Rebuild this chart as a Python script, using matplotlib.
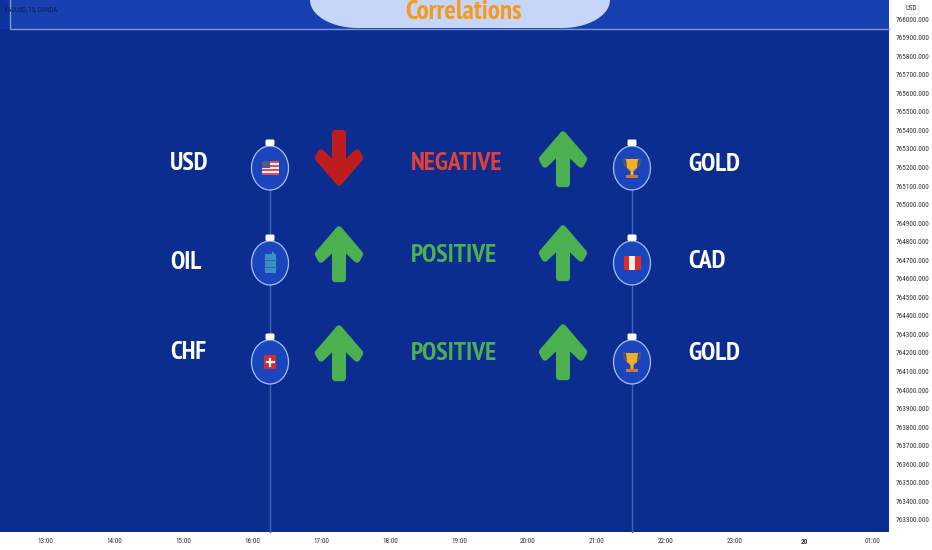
import numpy as np
import matplotlib
matplotlib.use('Agg')
import matplotlib.pyplot as plt
from matplotlib.patches import Ellipse, Rectangle, FancyBboxPatch, Polygon

# chart data
prices = [766000 - 100 * i for i in range(28)]
hours = ['13:00', '14:00', '15:00', '16:00', '17:00', '18:00', '19:00', '20:00', '21:00',
         '22:00', '23:00', '20', '01:00']
left_names = ['USD', 'OIL', 'CHF']
right_names = ['GOLD', 'CAD', 'GOLD']
middle_words = ['NEGATIVE', 'POSITIVE', 'POSITIVE']
left_dirs = [-1, 1, 1]
right_dirs = [1, 1, 1]
left_icons = ['us', 'oil', 'ch']
right_icons = ['cup', 'pe', 'cup']

narrow = ['PT Sans Narrow', 'Roboto', 'DejaVu Sans']
small = ['Roboto Condensed', 'PT Sans Narrow', 'Roboto', 'DejaVu Sans']
BG = '#0a2d8f'
GREEN = '#4caf50'
RED = '#bf1d1d'

fig = plt.figure(figsize=(9.32, 5.5), dpi=100, facecolor='white')

# price chart part with real axes
ax = fig.add_axes([0, 18 / 550, 889 / 932, 532 / 550])
ax.set_facecolor(BG)
ax.set_xlim(-0.652, 12.232)
ax.set_ylim(763235, 766103)
ax.yaxis.tick_right()
ax.set_yticks(prices)
ax.set_yticklabels(['%.3f' % p for p in prices], fontsize=5.2, color='#333333', family=small)
ax.set_xticks(range(len(hours)))
ax.set_xticklabels(hours, fontsize=5.2, color='#333333', family=small)
ax.get_xticklabels()[11].set_fontweight('bold')
ax.tick_params(axis='y', length=0, pad=5)
ax.tick_params(axis='x', length=0, pad=4)
for s in ax.spines.values():
    s.set_visible(False)

# overlay in pixels
ov = fig.add_axes([0, 0, 1, 1])
ov.set_xlim(0, 932)
ov.set_ylim(550, 0)
ov.axis('off')
ov.patch.set_alpha(0)

ov.add_patch(Rectangle((0, 0), 889, 29, fc='#1740b0', ec='none'))
ov.add_patch(Rectangle((0, 0), 10, 29, fc='#0f339c', ec='none'))

# title pill
t = np.linspace(0, np.pi / 2, 30)
lx = 358 - 48 * np.cos(t)
ly = 28 * np.sin(t)
rx = 562 + 48 * np.cos(t[::-1])
ry = 28 * np.sin(t[::-1])
ov.add_patch(Polygon(np.column_stack([np.r_[lx, rx], np.r_[ly, ry]]), closed=True,
                     fc='#c6d6f9', ec='none'))
ov.plot([10, 10, 889], [0, 29, 29], color='#7f97cf', lw=1.0)
ov.text(463, 12, 'Correlations', color='#f59a1b', fontsize=19.5, fontweight='bold',
        family=narrow, ha='center', va='center')

ov.text(4, 10, 'XAUUSD, 15, OANDA', color='#0b1f5c', fontsize=4.8, va='center', family=small)
ov.add_patch(Rectangle((904, 4.5), 14, 9, fc='white', ec='#dddddd', lw=0.5))
ov.text(911, 9, 'USD', color='#333333', fontsize=5, ha='center', va='center', family=small)


def arrow(x, tip, sign, color):
    # sign 1 points up, -1 points down
    shape = [(0, 3.5), (21, 28), (18, 33.5), (3.8, 20), (3.8, 53), (-3.8, 53), (-3.8, 20),
             (-18, 33.5), (-21, 28)]
    pts = [(x + dx, tip + sign * dy) for dx, dy in shape]
    ov.add_patch(Polygon(pts, closed=True, fc=color, ec=color, lw=4.6, joinstyle='round', zorder=3))


def icon(kind, x, y):
    z = 5
    if kind == 'us':
        ov.add_patch(Rectangle((x - 8.5, y - 7), 17, 14, fc='#f3eded', ec='none', zorder=z))
        for i in range(4):
            ov.add_patch(Rectangle((x - 8.5, y - 7 + i * 4), 17, 2, fc='#d8505c', ec='none', zorder=z))
        ov.add_patch(Rectangle((x - 8.5, y - 7), 8, 7, fc='#56567e', ec='none', zorder=z))
    elif kind == 'oil':
        ov.add_patch(Rectangle((x - 5.5, y - 9), 11, 19, fc='#3a8fc4', ec='none', zorder=z))
        ov.add_patch(Rectangle((x + 2, y - 11), 2, 2, fc='#3a8fc4', ec='none', zorder=z))
        for d in [-3, 3.5]:
            ov.plot([x - 5.5, x + 5.5], [y + d, y + d], color='#2a6fae', lw=0.8, zorder=z + 1)
    elif kind == 'ch':
        ov.add_patch(Rectangle((x - 6, y - 7), 12, 14, fc='#d92b2b', ec='none', zorder=z))
        ov.plot([x - 3.5, x + 3.5], [y, y], color='white', lw=1.6, zorder=z + 1)
        ov.plot([x, x], [y - 3.5, y + 3.5], color='white', lw=1.6, zorder=z + 1)
    elif kind == 'pe':
        ov.add_patch(Rectangle((x - 8.5, y - 7), 17, 14, fc='#e02b2b', ec='none', zorder=z))
        ov.add_patch(Rectangle((x - 3, y - 7), 6, 14, fc='#fbeeee', ec='none', zorder=z))
    elif kind == 'cup':
        ov.plot([x - 6, x - 8, x - 7.5, x - 4], [y - 9, y - 9, y - 3, y], color='#6a5a4a', lw=1.1, zorder=z)
        ov.plot([x + 6, x + 8, x + 7.5, x + 4], [y - 9, y - 9, y - 3, y], color='#6a5a4a', lw=1.1, zorder=z)
        ov.add_patch(Polygon([(x - 6, y - 9), (x + 6, y - 9), (x + 5, y), (x + 1.5, y + 3),
                              (x + 1.5, y + 7), (x + 4, y + 8), (x - 4, y + 8), (x - 1.5, y + 7),
                              (x - 1.5, y + 3), (x - 5, y)],
                             closed=True, fc='#f0ad2e', ec='none', zorder=z))
        ov.add_patch(Rectangle((x - 6, y + 7), 12, 3, fc='#d0763a', ec='none', zorder=z))


def ornament(x, y, kind):
    ov.add_patch(Ellipse((x, y), 37, 44, fc='#1b45bd', ec='#a9bdf0', lw=0.9, zorder=3))
    ov.add_patch(FancyBboxPatch((x - 3, y - 27), 6, 3.5, boxstyle='round,pad=1.5', fc='white',
                                ec='none', zorder=4))
    icon(kind, x, y)


left_x, right_x = 270, 632
rows_y = [168, 263, 362]
left_text_y = [163.5, 262.5, 352.5]
right_text_y = [164.5, 261.5, 353.5]
mid_text_y = [163.5, 255.5, 353.5]
tips_l = [186, 226, 325]
tips_r = [131, 225, 324]

for x in [left_x, right_x]:
    ov.plot([x, x], [rows_y[0], 532], color='#3f62bd', lw=1.0, zorder=1)

for i in range(3):
    ornament(left_x, rows_y[i], left_icons[i])
    ornament(right_x, rows_y[i], right_icons[i])
    ov.text(170, left_text_y[i], left_names[i], color='white', fontsize=18.5, fontweight='bold',
            family=narrow, va='center')
    ov.text(688, right_text_y[i], right_names[i], color='white', fontsize=18.5, fontweight='bold',
            family=narrow, va='center')
    c = '#e2403a' if middle_words[i] == 'NEGATIVE' else '#4caf50'
    ov.text(411, mid_text_y[i], middle_words[i], color=c, fontsize=18.5, fontweight='bold',
            family=narrow, ha='left', va='center')
    d = left_dirs[i]
    arrow(339, tips_l[i], d, GREEN if d > 0 else RED)
    d = right_dirs[i]
    arrow(563, tips_r[i], d, GREEN if d > 0 else RED)

fig.savefig('out.png', dpi=100, facecolor='white')
